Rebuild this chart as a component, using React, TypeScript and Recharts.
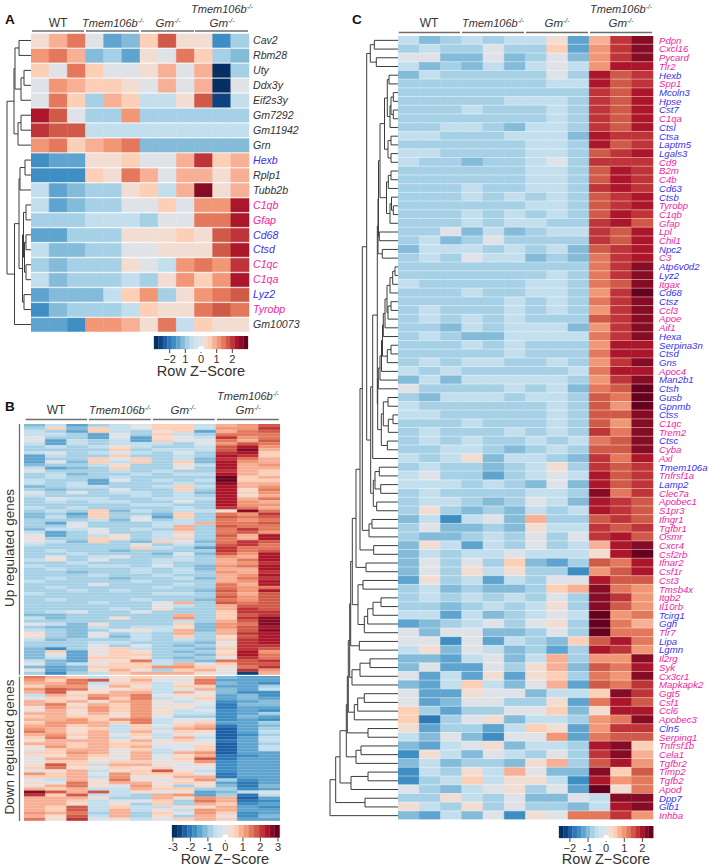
import React from 'react';
import { Bar, BarChart, Cell, Line, LineChart, ReferenceArea, XAxis, YAxis } from 'recharts';

// binned row Z-score colours, level -10 .. 10
const palette = [
  '#053061', '#0f437f', '#1f5fa5', '#2f78b6', '#3f8ec3', '#5fa4cf', '#84bbd9', '#a6d0e5', '#c3dfee', '#d3e3ee',
  '#dfe3e8',
  '#f2ddd3', '#fccfb7', '#f7b096', '#f19775', '#e3785c', '#d05a48', '#bf3438', '#ac162a', '#850c24', '#67001f',
];
const zColor = (level: number) => palette[level + 10];

const L = 0; // a leaf in the dendrogram lists

const genesA = ['Cav2', 'Rbm28', 'Uty', 'Ddx3y', 'Eif2s3y', 'Gm7292', 'Gm11942', 'Grn', 'Hexb', 'Rplp1', 'Tubb2b', 'C1qb', 'Gfap', 'Cd68', 'Ctsd', 'C1qc', 'C1qa', 'Lyz2', 'Tyrobp', 'Gm10073'];
const blueA = ['Hexb', 'Cd68', 'Ctsd', 'Lyz2'];
const pinkA = ['C1qb', 'Gfap', 'C1qc', 'C1qa', 'Tyrobp'];
const levelsA = [
  [1, 3, 5, 0, -5, -4, 2, 6, 1, 1, -6, -3],
  [4, 5, 3, -4, -3, -5, 1, 0, 5, 2, -3, -4],
  [2, 0, 5, 2, 0, 0, 1, 3, 0, 3, -10, -3],
  [0, 4, 3, 2, 2, 1, 0, 3, 0, 3, -10, 0],
  [0, 5, 2, -3, 3, 2, -2, -2, 1, 6, -9, -2],
  [8, 6, 0, -3, -3, 4, -3, -3, -3, -3, -3, -3],
  [7, 6, 6, -2, -2, -2, -2, -2, -2, -2, -2, -2],
  [4, 5, 2, 3, 4, 5, -4, -4, -4, -4, -4, -4],
  [-6, -5, -5, 1, 1, 2, 0, 0, 3, 7, 2, 3],
  [-6, -6, -6, 2, 1, 5, 3, 0, 3, 3, 1, 3],
  [-2, -5, -4, -3, -3, 1, 2, -2, 3, 9, 1, 3],
  [-2, -5, -4, -3, -3, 0, 0, 2, 0, 4, 4, 8],
  [-3, -3, -3, -2, -2, -2, -3, 0, 0, 5, 5, 8],
  [-5, -5, -3, -3, -3, 1, 1, 1, 2, 1, 6, 7],
  [-2, -4, -4, -3, -3, 0, 0, 1, 1, 1, 6, 8],
  [-3, -4, -3, -3, -3, 1, 0, -2, 4, 5, 4, 7],
  [-2, -4, -3, -3, -3, -2, -3, 1, 4, 2, 4, 8],
  [-5, -4, -4, -4, -2, 2, 4, -3, 1, 4, 5, 6],
  [-6, -4, -3, -3, -3, -2, 2, 1, 1, 5, 6, 5],
  [-5, -5, -6, 4, 4, 3, 1, 5, -2, 2, 1, 1],
];
const treeA = [24,
  [17, [16, [12, L, L], [10, [7, L, L], L]], [13, [10, L, L], L]],
  [16.5, [12, [11, [6, L, L], L], [8.5, [7.5, [5, L, L], [6.5, [5, L, L], [5, L, L]]], [7, L, L]]], L],
];

const levelsBUp = [
  [-4, -2, -5, -3, -2, 0, 2, 2, -2, 3, 4, 6],
  [-3, 2, -4, 2, -2, 0, 2, 2, -2, 4, 4, 7],
  [-2, -3, -5, 2, -2, -3, 1, 2, -5, 3, 5, 6],
  [-2, -2, -3, -5, 0, -3, 2, -2, -3, 5, 5, 5],
  [0, -3, -3, -5, 0, -5, 1, 0, -2, 7, 4, 5],
  [0, -5, -2, -3, -2, -5, 2, 0, 0, 5, 3, 6],
  [-2, -5, -2, -3, -2, -2, -2, -3, 0, 4, 6, 5],
  [-3, -2, -3, -2, 1, -2, -3, -3, -2, 6, 8, 4],
  [-3, -3, -3, -3, 2, -3, -2, -2, -2, 6, 9, 3],
  [-2, 0, -3, -2, 0, -2, -3, 0, -3, 7, 8, 2],
  [-5, -2, -3, -3, 2, -3, -3, -2, -3, 8, 7, 2],
  [-5, -3, -3, 2, 0, 2, -3, -2, -4, 7, 5, 3],
  [-5, 0, -4, 2, -2, 2, -3, 2, -4, 8, 4, 3],
  [-4, -3, -3, -2, 1, -3, -3, 0, -2, 8, 3, 4],
  [-2, -5, -4, -3, 2, -3, -3, 1, -3, 8, 3, 3],
  [0, -3, -3, -3, -2, -3, -2, -3, -3, 7, 3, 2],
  [-3, -2, -4, -3, -3, -2, -3, -2, -2, 8, 3, 2],
  [-3, -2, -3, -3, -2, -3, -3, -3, -3, 10, 2, 3],
  [-2, -3, -3, -5, 0, -3, -2, -3, -2, 10, 2, 2],
  [-2, -3, -2, -5, -3, -3, -3, -2, -3, 9, 3, 3],
  [-4, -3, -2, -2, -3, -3, -2, 2, -2, 8, 3, 4],
  [-3, -4, -3, -3, 0, -3, -3, 2, -3, 8, 1, 5],
  [0, -3, 0, -3, -2, -2, -3, -2, -4, 8, 2, 4],
  [-2, -3, -3, -3, -3, -2, -3, -2, -3, 8, 1, 3],
  [-3, 0, -2, -2, -3, -3, -2, -2, -2, 8, 3, 5],
  [-3, -2, -3, -2, -2, -3, -3, 0, -3, 8, 4, 3],
  [-3, -3, -3, -3, -3, -2, -2, -3, -3, 8, 4, 4],
  [-2, -3, -2, -3, -3, -3, -3, -2, -3, 7, 5, 3],
  [-3, -2, -3, 2, -4, -2, -3, -2, -2, 1, 9, 5],
  [-4, -3, -5, 2, -3, -3, -4, 2, -3, 5, 4, 7],
  [-4, -2, -4, 2, -3, 0, -5, 2, -3, 6, 5, 6],
  [-3, -3, -3, -2, -4, 0, -3, -2, -3, 5, 4, 5],
  [-3, -5, 0, -3, -3, -3, -2, -2, 3, 5, 5, 6],
  [-3, -3, 0, -3, -3, -3, -2, 3, -3, 6, 5, 5],
  [-4, -2, -2, 0, -3, -2, -3, 3, -3, 5, 7, 5],
  [-2, -5, -3, 0, -3, -3, -2, 2, -3, 5, 6, 4],
  [0, -5, -3, -2, 1, -3, -2, 0, -3, 6, 3, 8],
  [1, -3, -3, 2, 1, -3, -2, 2, -3, 5, 3, 8],
  [0, -2, -4, 2, -3, -4, 2, 0, -4, 5, 7, 6],
  [-2, -3, -3, -3, -3, 0, -3, -2, -3, 6, 7, 5],
  [-3, -3, -3, -3, -3, 2, -2, -3, -5, 7, 5, 5],
  [-3, -2, -3, -3, -4, -3, -3, -3, -3, 7, 5, 6],
  [-3, -3, -2, -3, -3, -3, -4, 0, -4, 6, 4, 8],
  [-3, 0, -3, -2, 0, -3, -3, -2, -3, 4, 3, 8],
  [-2, 1, -3, 0, -3, -3, -2, -2, -3, 3, 5, 8],
  [-3, -3, -2, -3, -3, -3, -2, -3, -3, 3, 4, 7],
  [-2, -3, -3, -2, -2, -3, 0, -3, -4, 4, 5, 8],
  [-3, -2, -3, -3, -3, -2, -3, -2, -4, 3, 3, 8],
  [-3, -3, -4, -3, -3, -2, -3, -2, -3, 4, 3, 7],
  [-3, -3, -3, -2, -3, -3, -2, -3, -3, 3, 4, 8],
  [-3, -2, -3, -3, -4, -3, -3, -2, -4, 3, 5, 7],
  [-2, -3, -3, -3, -3, -2, -3, -3, -3, 3, 4, 8],
  [-3, -3, -3, 0, -3, -3, -3, -2, -3, 5, 3, 8],
  [-3, -2, -3, -3, -3, -3, -2, -3, -3, 5, 4, 5],
  [-3, -3, -2, -3, -2, -3, -3, -3, -4, 6, 4, 8],
  [-2, -3, -3, -3, -3, -3, -2, -2, -3, 5, 3, 6],
  [-3, -3, -3, -3, -3, -3, -3, -3, -3, 6, 4, 6],
  [-3, -2, -3, -3, -3, -2, -3, -3, -4, 5, 4, 6],
  [-3, -3, -3, -2, -3, -3, 0, 3, -3, 6, 5, 6],
  [-3, -3, -3, -3, -3, -3, 0, -2, -3, 3, 6, 6],
  [-3, -3, -3, -3, -2, -3, 1, -3, -3, 3, 7, 6],
  [-3, -2, 0, -3, -3, 0, -3, -3, -3, 2, 7, 7],
  [-4, -4, -3, -3, -3, -3, -3, 3, -3, 2, 6, 7],
  [-2, -4, -3, -3, 1, -3, -3, 4, -3, 2, 7, 9],
  [-3, -3, -3, -3, -3, -3, -3, -2, -3, 3, 6, 9],
  [0, -2, -4, 1, -3, -3, -3, 2, -4, 4, 5, 9],
  [-3, -4, -4, -2, -3, -2, -2, 1, -4, 4, 6, 8],
  [-2, -3, -4, -3, 0, 1, -2, 3, -4, 3, 6, 9],
  [1, -3, -4, 0, -3, -2, -3, 3, -3, 3, 7, 8],
  [1, -3, -4, 0, -4, -2, -3, 2, -3, 1, 6, 8],
  [-2, -4, -3, -3, -3, -2, -3, -2, -3, 2, 7, 8],
  [-3, -3, -3, -2, -2, -3, -3, -3, -4, 0, 7, 8],
  [-3, -3, -3, 0, -3, 0, -3, -4, -3, 1, 7, 7],
  [-4, -6, -3, 1, 2, -2, -3, -3, -4, 2, 7, 6],
  [-4, 2, -5, 0, 2, 1, -3, -4, -3, 1, 8, 4],
  [-4, 0, -5, 1, 2, 2, -3, -3, -4, 2, 8, 5],
  [-4, -2, -5, 2, 2, 1, -3, -4, -3, 0, 7, 5],
  [-2, -4, -5, 1, 1, 5, -2, -3, -4, 5, 6, 7],
  [0, -4, -2, 0, 2, 2, -2, 3, 0, 2, 6, 6],
  [-4, -5, -4, 2, 2, 2, 4, 4, 2, 1, 5, 7],
  [0, -5, -4, 1, 3, 1, -3, 2, 3, 0, 7, 4],
  [-3, -6, -3, -2, 2, 3, 3, 3, 1, 0, -9, 3],
];
const levelsBDown = [
  [5, 3, 2, -2, 1, 2, 1, 1, 3, -4, -5, -5],
  [4, 2, 5, 6, 1, 3, 0, 0, 5, -5, -5, -5],
  [3, 3, 5, -2, 2, 2, -2, 1, 5, -4, -5, -6],
  [2, 4, 4, 0, 3, 1, -2, 2, 2, -5, -5, -3],
  [4, 6, 5, 1, 1, 2, -2, 0, 3, -4, -5, -2],
  [3, 6, 1, 1, 3, 3, -2, 3, 0, -4, -6, -6],
  [-2, 3, 2, 4, 3, 5, 0, 1, 1, -5, -4, -6],
  [0, 2, 1, 5, 2, 5, -2, 0, 2, -5, -4, -5],
  [3, 2, 3, 1, 3, 4, 1, -2, 0, -6, -5, -4],
  [3, 5, 1, 3, 2, 4, 0, 1, 0, -7, -4, -4],
  [1, 4, 2, 4, 2, 4, 1, 1, -2, -7, -5, -5],
  [1, 3, 1, 4, 2, 4, 1, -2, 0, -6, -5, -6],
  [3, 3, 1, 3, 1, 4, 1, -2, -2, -6, -5, -3],
  [2, 3, 2, 2, 1, 4, 0, -3, -3, -6, -4, -5],
  [3, 3, 4, 2, 4, 5, -2, 0, 0, -6, -5, -6],
  [2, 4, 4, 3, 2, 5, -2, 1, 2, -5, -5, -3],
  [3, 4, 2, 3, -2, 2, 0, 2, 3, -7, -5, -4],
  [4, 3, 1, 2, -2, 2, -2, 3, 4, -8, -5, -3],
  [5, 3, 1, 3, -2, 3, 0, 2, 1, -8, -5, -2],
  [3, 4, 2, 3, 0, 2, -2, 1, 0, -8, -6, -3],
  [2, 5, 1, 3, -2, 1, -2, 3, -2, -8, -5, -2],
  [1, 3, 3, 3, 1, 3, 1, 2, 0, -7, -5, -2],
  [3, 3, 2, 3, 2, 2, 0, 0, 1, -8, -5, -3],
  [1, 4, 2, 3, 2, 3, 0, 0, 2, -8, -5, -2],
  [0, 2, 3, 3, 0, 2, -2, 0, 2, -8, -5, -2],
  [2, 2, 4, 3, 1, 3, -2, 3, 4, -8, -5, -5],
  [0, 1, 3, 2, 0, 3, 0, 1, 3, -7, -6, -5],
  [1, 3, 3, 1, 0, 3, 0, 2, 6, -7, -5, -5],
  [0, 2, 2, 1, 2, 2, 1, 1, 4, -6, -5, -5],
  [1, 6, 2, -2, 3, 3, 0, 0, 1, -6, -5, -5],
  [2, 5, 1, 1, 2, 1, 2, 0, 0, -6, -5, -5],
  [0, 1, 3, -2, 1, 2, 6, 1, -2, -6, -5, -5],
  [4, 2, 3, 0, 4, 2, 2, 2, 0, -7, -5, -5],
  [2, 2, 3, -2, 4, 0, 1, 3, 3, -7, -5, -5],
  [0, -2, 3, 1, 5, 1, 0, 1, 4, -3, -6, -5],
  [1, 0, 5, 1, 3, 3, 1, 2, 1, -5, -7, -5],
  [1, 3, 5, 1, 0, 4, 1, -3, 1, -4, -7, -4],
  [3, 2, 3, -2, -2, 3, 2, 2, -3, -3, -6, -5],
  [9, 6, 3, 6, -2, 1, 0, 1, -5, -4, -2, 0],
  [7, 2, 6, -2, -2, -3, 3, 4, -5, -3, -7, -2],
  [3, 3, 3, 1, -3, -3, 3, 1, 4, 3, -8, -5],
  [3, 3, 2, -2, 0, 0, 2, -3, 5, 3, -7, -6],
  [3, 3, 1, -2, 1, -3, 2, -3, 3, 2, -6, -5],
  [3, 2, 6, -2, 2, -2, -2, 1, 1, 3, -5, -6],
  [3, 2, 6, -2, 3, -2, 1, -2, 4, 3, -5, -5],
  [4, 3, 5, -3, 3, -3, 2, 0, 4, 2, -6, -5],
  [3, 1, 6, -2, 3, -3, 1, -3, 3, 0, -6, -4],
  [5, 1, 7, 0, 1, -2, 0, 2, 3, 2, -5, -5],
];

const genesC = [
  'Pdpn', 'Cxcl16', 'Pycard', 'Tlr2', 'Hexb', 'Spp1', 'Mcoln3', 'Hpse', 'Cst7', 'C1qa', 'Ctsl', 'Ctsa', 'Laptm5', 'Lgals3', 'Cd9',
  'B2m', 'C4b', 'Cd63', 'Ctsb', 'Tyrobp', 'C1qb', 'Gfap', 'Lpl', 'Chil1', 'Npc2', 'C3', 'Atp6v0d2', 'Lyz2', 'Itgax', 'Cd68',
  'Ctsz', 'Ccl3', 'Apoe', 'Aif1', 'Hexa', 'Serpina3n', 'Ctsd', 'Gns', 'Apoc4', 'Man2b1', 'Ctsh', 'Gusb', 'Gpnmb', 'Ctss', 'C1qc',
  'Trem2', 'Ctsc', 'Cyba', 'Axl', 'Tmem106a', 'Tnfrsf1a', 'Lamp2', 'Clec7a', 'Apobec1', 'S1pr3', 'Ifngr1', 'Tgfbr1', 'Osmr', 'Cxcr4', 'Csf2rb',
  'Ifnar2', 'Csf1r', 'Cst3', 'Tmsb4x', 'Itgb2', 'Il10rb', 'Tcirg1', 'Ggh', 'Tlr7', 'Lipa', 'Lgmn', 'Il2rg', 'Syk', 'Cx3cr1', 'Mapkapk2',
  'Ggt5', 'Csf1', 'Ccl6', 'Apobec3', 'Cln5', 'Serping1', 'Tnfrsf1b', 'Cela1', 'Tgfbr2', 'Timp2', 'Tgfb2', 'Apod', 'Dpp7', 'Glb1', 'Inhba',
];
const blueC = ['Hexb', 'Mcoln3', 'Hpse', 'Cst7', 'Ctsl', 'Ctsa', 'Laptm5', 'Lgals3', 'Cd63', 'Ctsb', 'Npc2', 'Atp6v0d2', 'Lyz2', 'Cd68', 'Ctsz', 'Hexa', 'Serpina3n', 'Ctsd', 'Gns', 'Man2b1', 'Ctsh', 'Gusb', 'Gpnmb', 'Ctss', 'Ctsc', 'Tmem106a', 'Lamp2', 'Tcirg1', 'Ggh', 'Lipa', 'Lgmn', 'Cln5', 'Dpp7', 'Glb1'];
const pinkC = genesC.filter((g) => !blueC.includes(g));
const levelsC = [
  [-2, -4, -3, -2, -3, -2, -2, 1, -5, 3, 7, 9],
  [-3, -2, -3, -3, 0, -3, -3, 2, -5, 4, 7, 9],
  [0, 0, -4, -4, 0, -4, -3, 0, -4, 4, 7, 9],
  [-2, -4, -3, -4, -2, -4, -2, 0, -2, 4, 8, 8],
  [-4, -2, -3, -3, -3, -3, -3, 0, -3, 8, 6, 7],
  [-3, -3, -3, -3, -3, -3, -3, -2, -2, 8, 6, 7],
  [-3, -3, -3, -3, -3, -3, -3, -3, -3, 7, 6, 8],
  [-3, -3, -3, -3, -3, -2, -2, -2, -3, 7, 6, 8],
  [-3, -3, -3, -2, -3, -3, -3, -2, -3, 7, 6, 8],
  [-3, -3, -3, -3, -3, -3, -3, -2, -3, 7, 6, 8],
  [-3, -3, -2, -2, -3, -4, -2, -2, -3, 7, 6, 8],
  [-2, -2, -3, -3, -3, -2, -2, -2, -4, 8, 7, 7],
  [-3, -3, -3, -3, -3, -3, -2, -2, -3, 8, 6, 7],
  [-2, -2, -3, -3, -3, -3, -2, -2, -3, 6, 7, 8],
  [-2, -3, -3, -4, -3, -3, -2, 0, -3, 7, 7, 7],
  [-3, -3, -3, -3, -3, -3, -2, -2, -3, 6, 8, 7],
  [-3, -3, -3, -3, -3, -3, -2, -2, -3, 6, 8, 7],
  [-3, -3, -3, -2, -3, -3, -2, -2, -3, 7, 8, 7],
  [-3, -3, -3, -2, -3, -2, -3, -2, -3, 6, 7, 8],
  [-3, -3, -3, -3, -3, -3, -2, -2, -3, 6, 7, 8],
  [-3, -3, -3, -2, -3, -2, -3, -2, -3, 6, 8, 7],
  [-3, -3, -3, -2, -3, -2, -2, -3, -3, 7, 8, 6],
  [-3, -3, 0, -4, -2, -4, -3, -2, -2, 7, 6, 8],
  [-3, -2, -4, -3, 0, -3, -3, -3, -3, 7, 6, 8],
  [-4, -2, -2, -2, -3, -2, -3, -2, -4, 6, 7, 8],
  [-3, -2, -3, 0, -2, -2, -4, -3, -4, 5, 7, 8],
  [-3, -3, -3, -3, -3, -3, -3, -3, -3, 5, 7, 9],
  [-3, -3, -3, -3, -3, -3, -3, -2, -3, 5, 7, 9],
  [-2, -3, -3, -3, -3, -3, -2, -2, -3, 5, 6, 9],
  [-3, -3, -3, -2, -3, -3, -2, -2, -3, 4, 7, 10],
  [-3, -3, -3, -3, -3, -2, -3, -2, -3, 5, 7, 9],
  [-3, -2, -3, -3, -3, -2, -3, -2, -3, 4, 7, 9],
  [-3, -2, -3, -2, -3, -2, -3, -3, -3, 6, 7, 9],
  [-3, -3, -4, -2, -3, -2, -2, -2, -4, 4, 7, 9],
  [-3, -2, -3, -4, -4, -2, -2, -2, -2, 5, 7, 9],
  [-3, -3, -3, -2, -3, -2, -3, -3, -3, 4, 8, 8],
  [-3, -3, -3, -3, -3, -2, -3, -3, -3, 5, 8, 8],
  [-3, -2, -3, -2, -2, -3, -3, -2, -3, 4, 7, 9],
  [-2, -3, -2, -3, -3, -3, -3, -3, -2, 5, 8, 8],
  [-4, -2, -4, -2, -2, -2, -2, -2, -3, 4, 7, 9],
  [0, -3, -3, -3, -3, -2, -3, -2, -4, 5, 6, 10],
  [-3, -4, -2, -2, -2, -3, -2, -2, -3, 6, 5, 10],
  [-2, -3, -3, -3, -3, -3, -3, -2, -3, 6, 4, 10],
  [-2, -2, -3, -3, -3, -3, -3, -2, -3, 6, 6, 9],
  [-3, -3, -3, -2, -3, -3, -3, -2, -3, 6, 4, 9],
  [-3, -2, -3, -3, -3, -2, -3, -2, -3, 7, 5, 9],
  [-3, -2, -3, -2, -3, -3, -2, -3, -2, 5, 6, 9],
  [-3, -3, -2, -2, -3, -4, -3, -2, -3, 6, 6, 9],
  [-2, -3, -2, 1, -4, -2, -2, -3, -4, 7, 5, 8],
  [-3, -2, -3, -3, -4, -3, -2, 1, -3, 7, 6, 7],
  [-2, 0, -3, -3, -5, -3, -2, 0, -2, 8, 6, 7],
  [-2, -2, -2, -3, -2, -3, -4, 0, -4, 8, 6, 7],
  [-3, -2, -3, -3, -3, -3, -2, -2, -3, 9, 5, 7],
  [-3, -2, -2, -3, -4, -3, 0, -2, -4, 8, 7, 6],
  [-3, 1, -3, -4, -3, -4, -2, -3, -2, 8, 7, 6],
  [-4, -2, -6, -2, 0, -4, 3, -3, -3, 6, 7, 6],
  [-3, 0, -4, -4, -3, -4, 1, -2, -2, 7, 6, 7],
  [-3, -4, -4, -3, -2, -3, 0, -3, 0, 7, 8, 6],
  [-4, 1, -2, -5, -2, -3, 0, -3, -2, 3, 8, 9],
  [-4, -2, -3, -2, -2, 0, -2, -2, -2, 1, 8, 10],
  [-4, 0, -3, 0, -3, 2, -4, -5, -3, 6, 5, 8],
  [-4, 0, -3, 1, -2, 1, -3, -3, -6, 4, 6, 8],
  [-5, 1, -3, -2, -5, -2, -3, 0, 0, 8, 6, 6],
  [-3, -2, -4, -3, -4, -4, -3, 2, 3, 9, 5, 4],
  [-3, -2, -3, -2, -3, -2, -3, 0, -3, 9, 7, 4],
  [-3, -3, -4, -3, -2, -3, -2, 1, -3, 9, 6, 4],
  [-2, -2, -5, -2, -4, -3, -2, 0, -2, 10, 4, 5],
  [-5, -4, -3, -2, 0, -3, 0, 1, -3, 10, 5, 3],
  [0, -4, 0, 0, -4, -4, -3, 0, -3, 10, 5, 5],
  [0, 0, -6, 0, -5, -2, -3, -4, 2, 6, 8, 5],
  [-2, 1, -4, 0, -2, -4, -3, -5, -3, 8, 7, 4],
  [-4, -4, -5, -2, 0, -4, -2, 3, -3, 4, 4, 9],
  [-4, 0, -5, -5, 0, -3, 1, 3, -4, 6, 5, 8],
  [0, -5, -2, -5, 1, -5, 1, 2, -3, 5, 4, 9],
  [-4, -5, -2, 2, -2, -4, 0, 3, -5, 6, 5, 7],
  [0, -5, -5, 1, 0, 0, -4, -2, -2, 2, 9, 7],
  [0, -5, -4, 0, 0, -3, -3, 1, -5, 5, 8, 6],
  [2, -3, -5, -3, -3, 0, 0, 2, -4, 1, 8, 8],
  [2, -7, -3, 0, 1, -4, -2, -2, -3, 4, 5, 9],
  [1, -5, -3, -3, -5, -2, 2, 1, -5, 4, 7, 7],
  [-2, -4, 0, -4, -6, 0, 0, 4, -5, 5, 6, 6],
  [-4, -5, -2, 0, 1, -4, -2, -2, -3, 8, 9, 2],
  [-6, 1, -2, -4, 0, -2, -3, 0, -3, 7, 9, 3],
  [-4, -2, -4, -3, -3, -4, 1, 3, -3, 6, 8, 4],
  [-6, -2, -3, 1, -2, 3, 0, -4, -4, 9, 2, 6],
  [-6, -3, -2, 2, -2, 1, 1, -2, -6, 8, 4, 5],
  [0, -3, -4, -2, 0, 1, -3, 0, -5, 10, 1, 5],
  [-3, -3, 1, -2, -3, 0, -4, -4, 0, -2, 9, 9],
  [1, -2, -3, 1, -3, 0, -3, -3, -4, -2, 8, 9],
  [-4, -5, -2, -4, 0, -6, 1, 0, 5, 5, 7, 4],
];
// dendrogram of panel C: [merge height, upper branch, lower branch]
const treeCRows4to25 = [20,
  [19.5,
    [18,
      [13.5, [10.7, [9, L, L], [8, [7, [4.7, L, L], [4.7, L, L]], L]], [10, [7, L, L], [7, L, L]]],
      [11.5, [9.7, [7, L, L], L], [8, [6.5, L, [4.7, L, L]], L]]],
    [18.7, L, L]],
  [15.7, L, L]];
const treeCRows26to47 = [20.3,
  [19.7, [18, [16.5, [15.5,
    [14.7, [13, [11, [8, [5.3, [3, L, L], L], L], [10, [7, L, L], L]], L], L],
    [10.7, [7, L, L], L]], L], L], L],
  [16.7, [14.7, [10, L, L], [9.7, [5, L, L], L]], [10.7, L, L]]];
const treeCMiddle = [31.3,
  [27.7, [23.7, L, L], [21.7, L, L]],
  [27.3, [25.3, [20.7, treeCRows4to25, treeCRows26to47], L], [24.7, [23, [18.7, L, L], [17.3, L, L]], [21.3, L, L]]]];
const treeC = [68,
  [62.3,
    [58,
      [51.7,
        [50.7,
          [49.7,
            [48.3,
              [47.3,
                [45.7,
                  [42, [38, [35.7, treeCMiddle, [29, [26, L, L], L]], [24.3, L, L]], [32, L, L]],
                  [40, [35, L, L], [33.7, [30.3, [25, [17, L, L], L], L], L]]],
                [38.7, L, L]],
              [46, [38, [28, L, L], L], L]],
            [43.7, [40.3, [33.7, L, L], L], L]],
          [30, L, L]],
        [42, [37, L, L], L]],
      [47, [30, L, L], L]],
    [33, L, L]],
  L];

const colorbarTicksA = [-2, -1, 0, 1, 2];
const colorbarLabelsA = ['\u22122', '1', '0', '1', '2'];
const colorbarTicksB = [-3, -2, -1, 0, 1, 2, 3];
const colorbarLabelsB = ['-3', '-2', '-1', '0', '1', '2', '3'];
const colorbarTicksC = [-2, -1, 0, 1, 2];
const colorbarLabelsC = ['\u22122', '-1', '0', '1', '2'];

const FONT = '"Liberation Sans", Arial, sans-serif';
const PINK = '#f0259f';
const BLUE = '#3a2ff0';
const INK = '#333333';
const RULE = '#6e6e6e';
const columnKeys = Array.from({ length: 12 }, (_, i) => `c${i}`);

const at = (left: number, top: number): React.CSSProperties => ({ position: 'absolute', left, top });

const GeneTick = ({ x, y, payload, fontSize, gap, blue, pink }: any) => {
  const gene = payload.value;
  const fill = blue.includes(gene) ? BLUE : pink.includes(gene) ? PINK : INK;
  return (
    <text x={x + gap} y={y} dy='0.35em' fontSize={fontSize} fontStyle='italic' fontFamily={FONT} fill={fill}>
      {gene}
    </text>
  );
};

const Heatmap = ({ genes, levels, left, top, width, height, labelWidth = 0, fontSize = 11, gap = 0, blue = [], pink = [] }: any) => {
  const data = levels.map((_: number[], i: number) => {
    const row: any = { gene: genes ? genes[i] : `r${i}` };
    columnKeys.forEach((k) => (row[k] = 1));
    return row;
  });
  return (
    <div style={at(left, top)}>
      <BarChart
        layout='vertical'
        width={width + labelWidth}
        height={height}
        data={data}
        margin={{ top: 0, right: 0, bottom: 0, left: 0 }}
        barCategoryGap={0}
        barGap={0}
        barSize={height / levels.length}
      >
        <XAxis type='number' domain={[0, 12]} hide />
        <YAxis
          type='category'
          dataKey='gene'
          orientation='right'
          width={labelWidth}
          hide={!genes}
          interval={0}
          axisLine={false}
          tickLine={false}
          tick={(props: any) => <GeneTick {...props} fontSize={fontSize} gap={gap} blue={blue} pink={pink} />}
        />
        {columnKeys.map((k, c) => (
          <Bar key={k} dataKey={k} stackId='heat' isAnimationActive={false}>
            {levels.map((row: number[], r: number) => (
              <Cell key={r} fill={zColor(row[c])} stroke={zColor(row[c])} strokeWidth={0.5} />
            ))}
          </Bar>
        ))}
      </BarChart>
    </div>
  );
};

// walk the merge lists into one broken polyline, rows are taken top to bottom
const dendrogramPoints = (tree: any) => {
  const points: any[] = [];
  let row = 0;
  const walk = (node: any): { h: number; y: number } => {
    if (node === L) return { h: 0, y: row++ + 0.5 };
    const a = walk(node[1]);
    const b = walk(node[2]);
    points.push({ h: a.h, y: a.y }, { h: node[0], y: a.y }, { h: node[0], y: b.y }, { h: b.h, y: b.y }, { h: null, y: null });
    return { h: node[0], y: (a.y + b.y) / 2 };
  };
  walk(tree);
  return points;
};

const Dendrogram = ({ tree, rows, right, top, height }: any) => {
  const points = dendrogramPoints(tree);
  const maxH = tree[0];
  return (
    <div style={at(right - maxH - 2, top)}>
      <LineChart width={maxH + 2} height={height} data={points} margin={{ top: 0, right: 0, bottom: 0, left: 2 }}>
        <XAxis type='number' dataKey='h' domain={[0, maxH]} reversed hide />
        <YAxis type='number' domain={[0, rows]} reversed hide />
        <Line dataKey='y' stroke='#3c3c3c' strokeWidth={1} dot={false} isAnimationActive={false} />
      </LineChart>
    </div>
  );
};

const Colorbar = ({ left, top, width, barHeight, domain, ticks, labels }: any) => {
  const step = (domain[1] - domain[0]) / palette.length;
  const pad = 12; // room for the end tick labels
  return (
    <div style={at(left - pad, top)}>
      <LineChart width={width + 2 * pad} height={barHeight + 20} data={[{ x: 0, y: 0 }]} margin={{ top: 0, right: pad, bottom: 0, left: pad }}>
        <XAxis
          type='number'
          dataKey='x'
          domain={domain}
          ticks={ticks}
          height={20}
          interval={0}
          axisLine={false}
          tickSize={4}
          tickLine={{ stroke: '#444' }}
          tick={{ fontSize: 11, fill: INK, fontFamily: FONT }}
          tickFormatter={(v: number) => labels[ticks.indexOf(v)]}
        />
        <YAxis type='number' domain={[0, 1]} hide />
        {palette.map((color, i) => (
          <ReferenceArea key={i} x1={domain[0] + i * step} x2={domain[0] + (i + 1) * step} fill={color} fillOpacity={1} stroke={color} strokeWidth={0.3} />
        ))}
        <Line dataKey='y' stroke='none' dot={false} isAnimationActive={false} />
      </LineChart>
    </div>
  );
};

const Group = ({ name, x, y, size = 11 }: any) => (
  <text x={x} y={y} textAnchor='middle' fontSize={size} fontStyle='italic' fill={INK}>
    {name}
    <tspan fontSize={size * 0.6} dy={-4}>
      -/-
    </tspan>
  </text>
);

// group headers above one heatmap
const Header = ({ xs, y, rules, ruleY }: any) => (
  <g>
    <text x={xs[0]} y={y} textAnchor='middle' fontSize={12} fill={INK}>
      WT
    </text>
    <Group name='Tmem106b' x={xs[1]} y={y} />
    <Group name='Gm' x={xs[2]} y={y} size={11.5} />
    <Group name='Tmem106b' x={xs[3]} y={y - 14.5} />
    <Group name='Gm' x={xs[3]} y={y} size={11.5} />
    {rules.map(([x1, x2]: number[]) => (
      <line key={x1} x1={x1} x2={x2} y1={ruleY} y2={ruleY} stroke={RULE} strokeWidth={1.3} />
    ))}
  </g>
);

const Annotations = () => (
  <svg width={709} height={866} style={{ ...at(0, 0), fontFamily: FONT, pointerEvents: 'none' }}>
    <text x={5} y={24} fontSize={13.5} fontWeight='bold' fill='#111'>A</text>
    <text x={5} y={411} fontSize={13.5} fontWeight='bold' fill='#111'>B</text>
    <text x={352} y={24} fontSize={13.5} fontWeight='bold' fill='#111'>C</text>

    <Header xs={[58, 113, 168, 222]} y={27} ruleY={31} rules={[[32, 84], [86, 139], [141, 194], [195, 248]]} />
    <Header xs={[56, 120, 183, 248]} y={414} ruleY={419.5} rules={[[25.7, 87], [89, 150.7], [153, 214.7], [217, 278.7]]} />
    <Header xs={[429, 493, 557, 621]} y={27} ruleY={32.5} rules={[[398.7, 460], [462, 524], [526, 588], [590, 652]]} />

    <line x1={19.5} x2={19.5} y1={424} y2={675} stroke={RULE} strokeWidth={1.3} />
    <line x1={19.5} x2={19.5} y1={676.5} y2={821} stroke={RULE} strokeWidth={1.3} />
    <text transform='translate(14,548) rotate(-90)' textAnchor='middle' fontSize={13.5} fill={INK}>Up regulated genes</text>
    <text transform='translate(14,747) rotate(-90)' textAnchor='middle' fontSize={13.5} fill={INK}>Down regulated genes</text>

    <text x={201} y={376} textAnchor='middle' fontSize={14.5} fill={INK}>Row Z{'\u2212'}Score</text>
    <text x={225} y={864} textAnchor='middle' fontSize={14.5} fill={INK}>Row Z{'\u2212'}Score</text>
    <text x={606} y={864} textAnchor='middle' fontSize={14.5} fill={INK}>Row Z{'\u2212'}Score</text>
  </svg>
);

const App = () => (
  <div style={{ ...at(0, 0), width: 709, height: 866, overflow: 'hidden', background: '#fff' }}>
    <Heatmap genes={genesA} levels={levelsA} left={31} top={33} width={218} height={299} labelWidth={70} fontSize={10.6} gap={-4} blue={blueA} pink={pinkA} />
    <Dendrogram tree={treeA} rows={genesA.length} right={31} top={33} height={299} />
    <Colorbar left={154.3} top={336} width={94} barHeight={13} domain={[-3, 3]} ticks={colorbarTicksA} labels={colorbarLabelsA} />

    <Heatmap levels={levelsBUp} left={24} top={424} width={256} height={251} />
    <Heatmap levels={levelsBDown} left={24} top={676} width={256} height={145} />
    <Colorbar left={172.3} top={825} width={107.7} barHeight={12.5} domain={[-3.05, 3.1]} ticks={colorbarTicksB} labels={colorbarLabelsB} />

    <Heatmap genes={genesC} levels={levelsC} left={398} top={36} width={255} height={784} labelWidth={56} fontSize={9.6} gap={-2} blue={blueC} pink={pinkC} />
    <Dendrogram tree={treeC} rows={genesC.length} right={398} top={36} height={784} />
    <Colorbar left={559} top={826} width={94.3} barHeight={12} domain={[-2.6, 2.6]} ticks={colorbarTicksC} labels={colorbarLabelsC} />

    <Annotations />
  </div>
);

export default App;
